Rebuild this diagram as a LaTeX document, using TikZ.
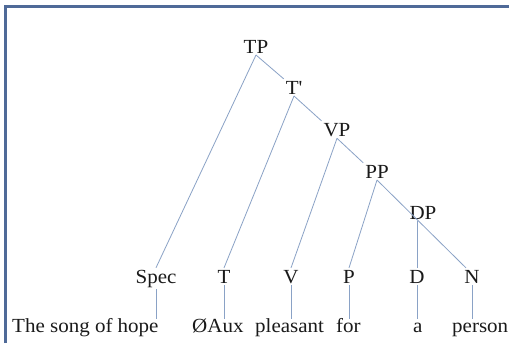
\documentclass[tikz,border=0pt]{standalone}
\usepackage{fontspec}
\setmainfont{Liberation Serif}[FakeStretch=1.05]
\definecolor{framec}{HTML}{4F6A98}
\definecolor{branchc}{HTML}{8AA2C6}
\definecolor{inkc}{HTML}{1A1A1A}
\begin{document}
\begin{tikzpicture}[x=1pt,y=-1pt,
  lab/.style={anchor=base, inner sep=0pt, outer sep=2pt, text=inkc,
    font=\fontsize{20}{24}\selectfont},
  word/.style={anchor=base west, inner sep=0pt, text=inkc,
    font=\fontsize{20}{24}\selectfont},
  branch/.style={draw=branchc, line width=0.8pt},
  frameline/.style={draw=framec, line width=2.2pt}]
\useasboundingbox (0,0) rectangle (509,343);
\fill[white] (0,0) rectangle (509,343);
% frame: top and left edges only
\draw[frameline] (5.5,343) -- (5.5,6.5) -- (509,6.5);

% phrase labels
\node[lab] (tp) at (256,53)  {TP};
\node[lab] (tb) at (294,94)  {T\textquotesingle};
\node[lab] (vp) at (337,136) {VP};
\node[lab] (pp) at (377,178) {PP};
\node[lab] (dp) at (423,219) {DP};

% head / specifier row
\node[lab] (spec) at (156,283) {Spec};
\node[lab] (t)    at (224,283) {T};
\node[lab] (v)    at (291,283) {V};
\node[lab] (p)    at (349,283) {P};
\node[lab] (d)    at (417,283) {D};
\node[lab] (n)    at (472,283) {N};

% words
\node[word] (w1) at (12,332)  {The song of hope};
\node[word] (w2) at (192,332) {ØAux};
\node[word] (w3) at (255,332) {pleasant};
\node[word] (w4) at (336,332) {for};
\node[word] (w5) at (413,332) {a};
\node[word] (w6) at (452,332) {person};
\coordinate (wt) at (0,319);

% branches
\draw[branch] (tp.south) -- (spec.north);
\draw[branch] (tp.south) -- (tb.north west);
\draw[branch] (tb.south) -- (t.north);
\draw[branch] (tb.south) -- (vp.north west);
\draw[branch] (vp.south) -- (v.north);
\draw[branch] (vp.south) -- (pp.north west);
\draw[branch] (pp.south) -- (p.north);
\draw[branch] (pp.south) -- ([xshift=-6pt]n.north);
\draw[branch] (dp.south -| d.north) -- (d.north);

% heads to words
\foreach \h in {spec,t,v,p,d,n}
  \draw[branch] (\h.south) -- (\h.south |- wt);
\end{tikzpicture}
\end{document}
